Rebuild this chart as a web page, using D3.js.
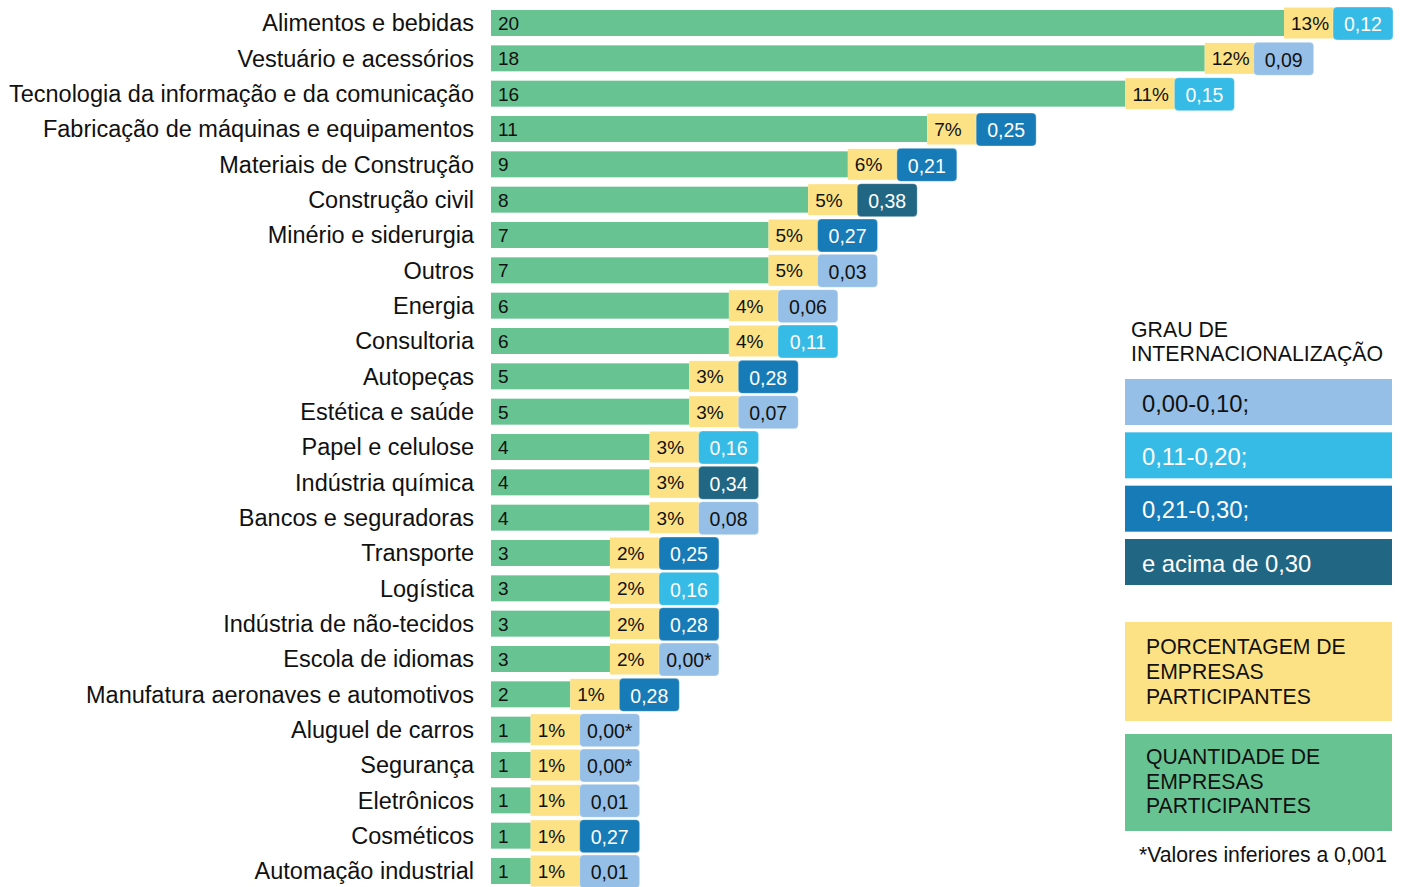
<!DOCTYPE html>
<html>
<head>
<meta charset="utf-8">
<script src="https://cdn.jsdelivr.net/npm/d3@7"></script>
<style>
  html, body { margin: 0; padding: 0; background: #fff; }
  svg { display: block; font-family: "Liberation Sans", Arial, Helvetica, sans-serif; }
</style>
</head>
<body>
<svg id="chart" width="1410" height="887"></svg>
<script>
const categories = [
  "Alimentos e bebidas", "Vestuário e acessórios", "Tecnologia da informação e da comunicação",
  "Fabricação de máquinas e equipamentos", "Materiais de Construção", "Construção civil",
  "Minério e siderurgia", "Outros", "Energia", "Consultoria", "Autopeças", "Estética e saúde",
  "Papel e celulose", "Indústria química", "Bancos e seguradoras", "Transporte", "Logística",
  "Indústria de não-tecidos", "Escola de idiomas", "Manufatura aeronaves e automotivos",
  "Aluguel de carros", "Segurança", "Eletrônicos", "Cosméticos", "Automação industrial"
];
const counts = [20, 18, 16, 11, 9, 8, 7, 7, 6, 6, 5, 5, 4, 4, 4, 3, 3, 3, 3, 2, 1, 1, 1, 1, 1];
const percents = [13, 12, 11, 7, 6, 5, 5, 5, 4, 4, 3, 3, 3, 3, 3, 2, 2, 2, 2, 1, 1, 1, 1, 1, 1];
const grau = [0.12, 0.09, 0.15, 0.25, 0.21, 0.38, 0.27, 0.03, 0.06, 0.11, 0.28, 0.07, 0.16, 0.34,
  0.08, 0.25, 0.16, 0.28, 0.00, 0.28, 0.00, 0.00, 0.01, 0.27, 0.01];
const belowThreshold = [false, false, false, false, false, false, false, false, false, false, false,
  false, false, false, false, false, false, false, true, false, true, true, false, false, false];

const grauLegend = ["0,00-0,10;", "0,11-0,20;", "0,21-0,30;", "e acima de 0,30"];
const grauColors = ["#95bfe6", "#36bae6", "#167bb7", "#216683"];
const grauTextColors = ["#111", "#fff", "#fff", "#fff"];
const legendTitle = ["GRAU DE", "INTERNACIONALIZAÇÃO"];
const pctLegend = ["PORCENTAGEM DE", "EMPRESAS", "PARTICIPANTES"];
const qtyLegend = ["QUANTIDADE DE", "EMPRESAS", "PARTICIPANTES"];
const footnote = "*Valores inferiores a 0,001";

const GREEN = "#67c492", YELLOW = "#fde285";

const svg = d3.select("#chart");
const fmt = v => v.toFixed(2).replace(".", ",");

const x = d3.scaleLinear().domain([0, 20]).range([491, 1284]);
const y = d3.scalePoint().domain(categories).range([23, 871]);
const grauScale = d3.scaleThreshold().domain([0.105, 0.205, 0.305]).range([0, 1, 2, 3]);

const data = categories.map((c, i) => ({
  cat: c, count: counts[i], pct: percents[i], grau: grau[i], star: belowThreshold[i]
}));

const yellowW = 50, blueW = 60;

// category labels
svg.append("g").selectAll("text").data(data).join("text")
  .attr("x", 474).attr("y", d => y(d.cat)).attr("dy", "0.35em")
  .attr("text-anchor", "end").attr("font-size", 23.5).attr("fill", "#111")
  .text(d => d.cat);

const rows = svg.append("g").selectAll("g").data(data).join("g");

// green bars
rows.append("rect")
  .attr("x", x(0)).attr("y", d => y(d.cat) - 13)
  .attr("width", d => x(d.count) - x(0)).attr("height", 26)
  .attr("fill", GREEN);

// yellow boxes
rows.append("rect")
  .attr("x", d => x(d.count)).attr("y", d => y(d.cat) - 15.5)
  .attr("width", yellowW).attr("height", 31)
  .attr("fill", YELLOW);

// blue rounded boxes
rows.append("rect")
  .attr("x", d => x(d.count) + yellowW - 1).attr("y", d => y(d.cat) - 16)
  .attr("width", blueW).attr("height", 33).attr("rx", 4)
  .attr("fill", d => grauColors[grauScale(d.grau)])
  .attr("stroke", "#ffffff").attr("stroke-opacity", 0.35).attr("stroke-width", 1);

// count labels
rows.append("text")
  .attr("x", x(0) + 7).attr("y", d => y(d.cat)).attr("dy", "0.37em")
  .attr("font-size", 19).attr("fill", "#111")
  .text(d => d.count);

// percent labels
rows.append("text")
  .attr("x", d => x(d.count) + 7).attr("y", d => y(d.cat)).attr("dy", "0.37em")
  .attr("font-size", 19).attr("fill", "#111")
  .text(d => d.pct + "%");

// grau labels
rows.append("text")
  .attr("x", d => x(d.count) + yellowW - 1 + blueW / 2).attr("y", d => y(d.cat) + 1).attr("dy", "0.37em")
  .attr("text-anchor", "middle").attr("font-size", 19.5)
  .attr("fill", d => grauTextColors[grauScale(d.grau)])
  .text(d => fmt(d.grau) + (d.star ? "*" : ""));

// legend
const lg = svg.append("g");
lg.selectAll("text.title").data(legendTitle).join("text").attr("class", "title")
  .attr("x", 1131).attr("y", (d, i) => 337 + i * 24)
  .attr("font-size", 21.3).attr("fill", "#111").text(d => d);

const boxY = d3.scaleLinear().domain([0, 3]).range([379, 539]);
lg.selectAll("rect.g").data(grauLegend).join("rect").attr("class", "g")
  .attr("x", 1125).attr("y", (d, i) => boxY(i)).attr("width", 267).attr("height", 46)
  .attr("fill", (d, i) => grauColors[i]);
lg.selectAll("text.g").data(grauLegend).join("text").attr("class", "g")
  .attr("x", 1142).attr("y", (d, i) => boxY(i) + 24).attr("dy", "0.36em")
  .attr("font-size", 23.8).attr("fill", (d, i) => grauTextColors[i]).text(d => d);

lg.append("rect").attr("x", 1125).attr("y", 622).attr("width", 267).attr("height", 99).attr("fill", YELLOW);
lg.selectAll("text.p").data(pctLegend).join("text").attr("class", "p")
  .attr("x", 1146).attr("y", (d, i) => 654 + i * 25)
  .attr("font-size", 21.2).attr("fill", "#111").text(d => d);

lg.append("rect").attr("x", 1125).attr("y", 734).attr("width", 267).attr("height", 97).attr("fill", GREEN);
lg.selectAll("text.q").data(qtyLegend).join("text").attr("class", "q")
  .attr("x", 1146).attr("y", (d, i) => 764 + i * 24.5)
  .attr("font-size", 21.2).attr("fill", "#111").text(d => d);

lg.append("text").attr("x", 1139).attr("y", 862)
  .attr("font-size", 21.2).attr("fill", "#111").text(footnote);
</script>
</body>
</html>
